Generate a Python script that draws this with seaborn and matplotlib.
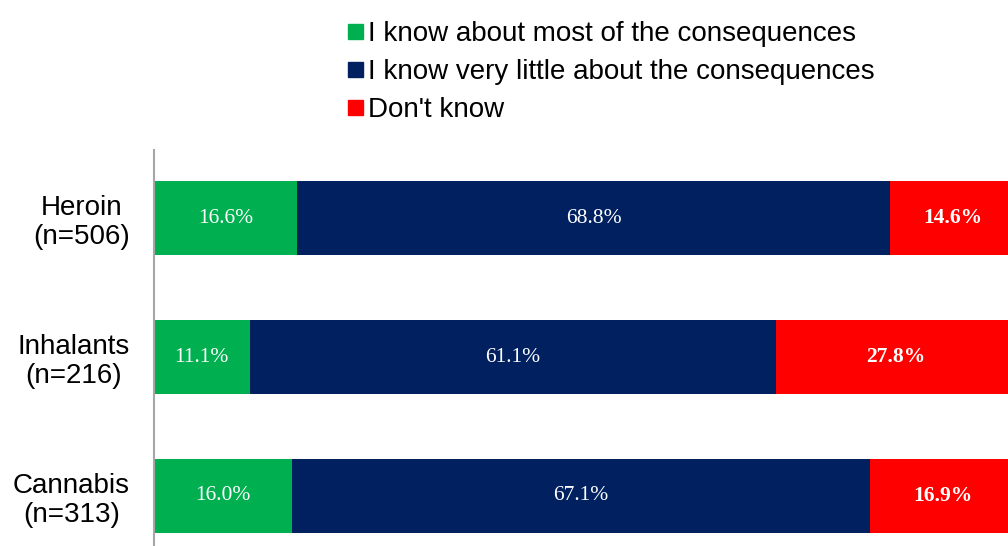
import matplotlib
matplotlib.use("Agg")
import matplotlib.pyplot as plt
from matplotlib.lines import Line2D
import seaborn as sns
import pandas as pd
import numpy as np

categories = ["Heroin\n(n=506)", "Inhalants\n(n=216)", "Cannabis\n(n=313)"]
series_names = [
    "I know about most of the consequences",
    "I know very little about the consequences",
    "Don't know",
]
know_most = [16.6, 11.1, 16.0]
know_little = [68.8, 61.1, 67.1]
dont_know = [14.6, 27.8, 16.9]

colors = ["#00B050", "#002060", "#FF0000"]

sns.set_theme(style="white")
plt.rcParams["font.family"] = ["Liberation Sans", "DejaVu Sans"]
plt.rcParams["text.color"] = "black"
plt.rcParams["ytick.color"] = "black"

df = pd.DataFrame({
    "category": categories,
    "most": know_most,
    "little": know_little,
    "dont": dont_know,
})
df["cum_most"] = df["most"]
df["cum_little"] = df["most"] + df["little"]
df["cum_dont"] = df["cum_little"] + df["dont"]

fig = plt.figure(figsize=(10.08, 5.46), dpi=100)
ax = fig.add_axes([154 / 1008, 0.0, 1 - 154 / 1008, 1 - 150 / 546])

# stacked bars: draw cumulative totals from the largest down
for col, color in zip(["cum_dont", "cum_little", "cum_most"], colors[::-1]):
    sns.barplot(data=df, x=col, y="category", orient="h", color=color,
                width=0.53, saturation=1, ax=ax, linewidth=0)

# the 100% end of the bars runs just past the right edge
ax.set_xlim(0, 99.1)
ax.set_ylim(2.36, -0.49)
ax.set_xlabel("")
ax.set_ylabel("")
ax.set_xticks([])
ax.tick_params(axis="y", length=0, pad=17.5, labelsize=20)
for lab in ax.get_yticklabels():
    lab.set_multialignment("center")
    lab.set_linespacing(1.15)
    lab.set_color("black")

for s in ["top", "right", "bottom"]:
    ax.spines[s].set_visible(False)
ax.spines["left"].set_color("#A6A6A6")
ax.spines["left"].set_linewidth(1.5)

# value labels centred in each segment
segments = [
    (df["most"], df["most"] / 2, "normal"),
    (df["little"], df["most"] + df["little"] / 2, "normal"),
    (df["dont"], df["cum_little"] + df["dont"] / 2, "bold"),
]
for vals, centers, weight in segments:
    for i, (v, c) in enumerate(zip(vals, centers)):
        ax.text(c, i, f"{v:.1f}%", ha="center", va="center", color="white",
                fontsize=15.5, fontweight=weight,
                family=["Liberation Serif", "DejaVu Serif"])

handles = [Line2D([0], [0], marker="s", linestyle="", markersize=10.8,
                  markerfacecolor=c, markeredgecolor=c) for c in colors]
fig.legend(handles, series_names, loc="upper left",
           bbox_to_anchor=(347 / 1008, 1 - 21 / 546), frameon=False,
           fontsize=20, handlelength=0.55, handletextpad=0.2,
           labelspacing=0.43, borderaxespad=0, borderpad=0,
           labelcolor="black")

fig.savefig("out.png", dpi=100)
